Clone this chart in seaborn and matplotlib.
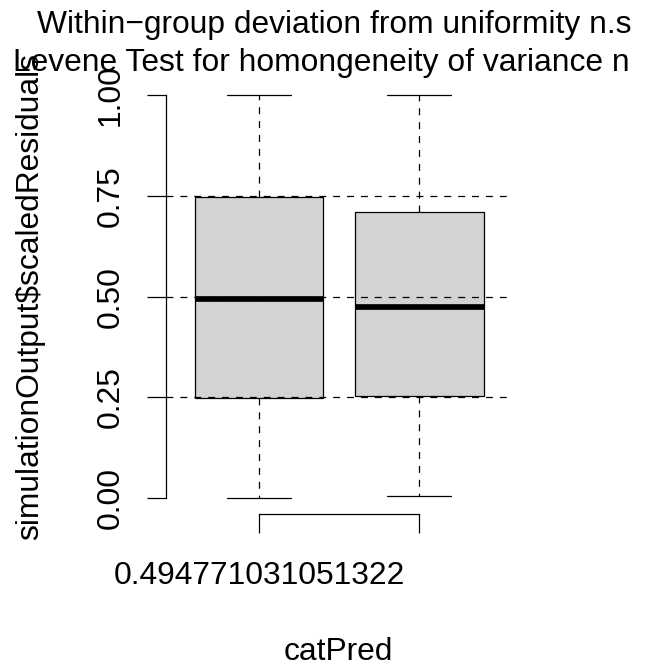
import matplotlib
matplotlib.use("Agg")
import matplotlib.pyplot as plt
import seaborn as sns
import pandas as pd
import numpy as np

# ---- data ----
categories = ["0.494771031051322", "level2"]
group1_values = [0.0, 0.2475, 0.4948, 0.747, 1.0]     # min, q1, median, q3, max
group2_values = [0.0047, 0.254, 0.4756, 0.7095, 1.0]
tick_labels_x = ["0.494771031051322", ""]
y_ticks = [0.0, 0.25, 0.5, 0.75, 1.0]
y_tick_labels = ["0.00", "0.25", "0.50", "0.75", "1.00"]
ref_lines = [0.25, 0.5, 0.75]
title_line1 = "Within\u2212group deviation from uniformity n.s"
title_line2 = "Levene Test for homongeneity of variance n"
x_label = "catPred"
y_label = "simulationOutput$scaledResiduals"

df = pd.DataFrame({
    "catPred": [categories[0]] * len(group1_values) + [categories[1]] * len(group2_values),
    "res": group1_values + group2_values,
})

sns.set_style("white")
plt.rcParams["font.family"] = ["Liberation Sans", "DejaVu Sans"]
plt.rcParams["lines.scale_dashes"] = False
plt.rcParams["text.color"] = "black"
plt.rcParams["xtick.color"] = "black"
plt.rcParams["ytick.color"] = "black"
plt.rcParams["xtick.labelcolor"] = "black"
plt.rcParams["ytick.labelcolor"] = "black"
plt.rcParams["axes.labelcolor"] = "black"

W, H = 646, 666
fig = plt.figure(figsize=(W / 100, H / 100), dpi=100)
fig.patch.set_facecolor("white")
left, right, top, bottom = 166, 512.4, 79.4, 514
ax = fig.add_axes([left / W, 1 - bottom / H, (right - left) / W, (bottom - top) / H])
ax.set_facecolor("white")

FS = 22.9
lw = 0.9
dash = (0, (5, 5))

sns.boxplot(data=df, x="catPred", y="res", order=categories, ax=ax,
            color="#D3D3D3", saturation=1, linecolor="black", linewidth=lw,
            width=0.8, whis=(0, 100), fliersize=0,
            medianprops={"linewidth": 4.1, "color": "black", "solid_capstyle": "butt"},
            whiskerprops={"linestyle": dash, "linewidth": lw, "color": "black"},
            capprops={"linewidth": lw, "color": "black"},
            boxprops={"edgecolor": "black", "linewidth": lw})

for v in ref_lines:
    ax.axhline(v, color="black", linestyle=dash, linewidth=lw, zorder=10)

ax.set_xlim(-0.58, 1.58)
ax.set_ylim(-0.04, 1.04)

ax.set_yticks(y_ticks)
ax.set_yticklabels(y_tick_labels, fontsize=FS, color="black")
for lab in ax.get_yticklabels():
    lab.set_rotation(90)
    lab.set_va("center")
    lab.set_ha("right")
ax.set_xticks([0, 1])
ax.set_xticklabels(tick_labels_x, fontsize=FS, color="black")

ax.tick_params(axis="y", direction="out", length=13.7, width=lw, pad=15.6, colors="black", left=True)
ax.tick_params(axis="x", direction="out", length=13.9, width=lw, pad=20.0, colors="black", bottom=True)

for s in ["top", "right"]:
    ax.spines[s].set_visible(False)
ax.spines["left"].set_bounds(0, 1)
ax.spines["bottom"].set_bounds(0, 1)
for s in ["left", "bottom"]:
    ax.spines[s].set_color("black")
    ax.spines[s].set_linewidth(lw)

ax.set_xlabel("")
ax.set_ylabel("")
ax.grid(False)

fig.text(30.4 / W, 1 - 296.7 / H, y_label, rotation=90, ha="center", va="center", fontsize=FS, color="black")
fig.text(338.3 / W, 1 - 660 / H, x_label, ha="center", va="baseline", fontsize=FS, color="black")
fig.text(334 / W, 1 - 32.5 / H, title_line1, ha="center", va="baseline", fontsize=FS, color="black")
fig.text(321.7 / W, 1 - 71 / H, title_line2, ha="center", va="baseline", fontsize=FS, color="black")

fig.savefig("out.png", dpi=100, facecolor="white")
